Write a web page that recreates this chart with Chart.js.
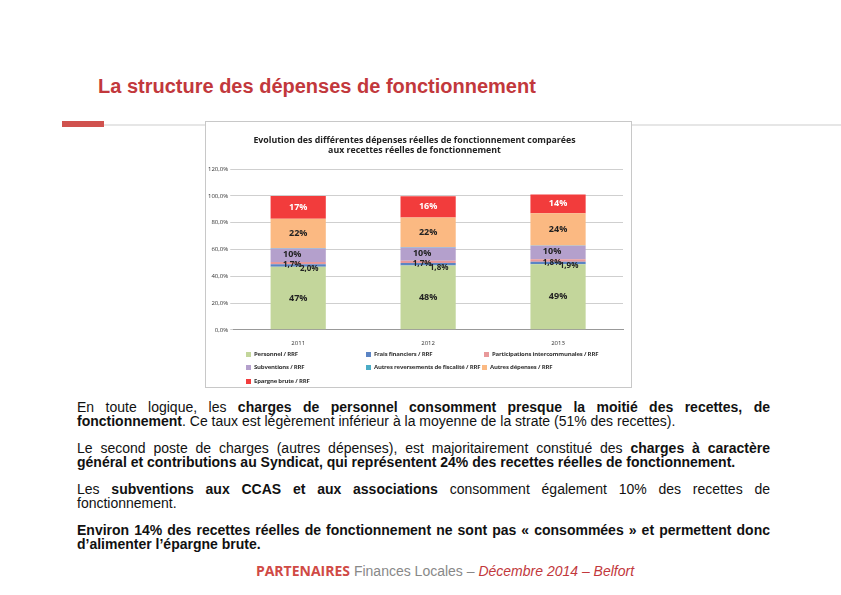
<!DOCTYPE html>
<html lang="fr">
<head>
<meta charset="utf-8">
<title>La structure des dépenses de fonctionnement</title>
<script src="https://cdn.jsdelivr.net/npm/chart.js@4"></script>
<style>
  html, body { margin: 0; padding: 0; background: #fff; }
  body { width: 841px; height: 595px; position: relative; overflow: hidden; font-family: "Liberation Sans", Arial, sans-serif; color: #111; }
  .page-title { position: absolute; left: 98px; top: 75px; margin: 0; font-size: 20px; font-weight: bold; color: #c2383c; }
  .rule-red { position: absolute; left: 62px; top: 121px; width: 42px; height: 6px; background: #d0524e; }
  .rule-grey { position: absolute; left: 104px; top: 124px; width: 737px; height: 2px; background: #e6e6e6; }
  .chart-box { position: absolute; left: 205px; top: 121px; width: 425px; height: 265px; border: 1px solid #c8c8c8; background: #fff; }
  .chart-box canvas { position: absolute; left: 0; top: 0; }
  .legend { position: absolute; left: 0; top: 0; width: 100%; height: 100%; pointer-events: none; font-family: "Open Sans", sans-serif; font-weight: bold; font-size: 6px; letter-spacing: -0.2px; color: #333; }
  .legend span { position: absolute; white-space: nowrap; }
  .legend i { display: inline-block; width: 5px; height: 5px; margin-right: 3px; vertical-align: -0.5px; }
  .text { position: absolute; left: 77px; top: 400px; width: 693px; font-size: 14px; line-height: 14px; text-align: justify; }
  .text p { margin: 0 0 13px 0; }
  .footer { position: absolute; left: 0; top: 561px; width: 890px; text-align: center; font-size: 14px; color: #888; }
  .footer b { font-family: "Open Sans", sans-serif; color: #d04a45; }
  .footer em { color: #c2383c; }
</style>
</head>
<body>
<h1 class="page-title">La structure des dépenses de fonctionnement</h1>
<div class="rule-red"></div>
<div class="rule-grey"></div>

<div class="chart-box">
  <canvas id="chart" width="425" height="265"></canvas>
  <div class="legend" id="legend"></div>
</div>

<div class="text">
  <p>En toute logique, les <b>charges de personnel consomment presque la moitié des recettes, de fonctionnement</b>. Ce taux est légèrement inférieur à la moyenne de la strate (51% des recettes).</p>
  <p>Le second poste de charges (autres dépenses), est majoritairement constitué des <b>charges à caractère général et contributions au Syndicat, qui représentent 24% des recettes réelles de fonctionnement.</b></p>
  <p>Les <b>subventions aux CCAS et aux associations</b> consomment également 10% des recettes de fonctionnement.</p>
  <p><b>Environ 14% des recettes réelles de fonctionnement ne sont pas « consommées » et permettent donc d’alimenter l’épargne brute.</b></p>
</div>

<div class="footer"><b>PARTENAIRES</b> Finances Locales – <em>Décembre 2014 – Belfort</em></div>

<script>
  /* ---------- Data ---------- */
  const years = ['2011', '2012', '2013'];
  const personnel = [47, 48, 49];
  const fraisFinanciers = [2.0, 1.8, 1.9];
  const participations = [1.7, 1.7, 1.8];
  const subventions = [10, 10, 10];
  const autresReversements = [0.3, 0.3, 0.3];
  const autresDepenses = [22, 22, 24];
  const epargneBrute = [17, 16, 14];
  const yTicks = [0, 20, 40, 60, 80, 100, 120];

  // dec = decimals shown in the bar label; dx/dy nudge the small overlapping labels
  const series = [
    { label: 'Personnel / RRF', data: personnel, color: '#c3d69b', text: '#222', dec: 0 },
    { label: 'Frais financiers / RRF', data: fraisFinanciers, color: '#5b84c4', text: '#222', dec: 1, dx: 11, dy: 3 },
    { label: 'Participations intercommunales / RRF', data: participations, color: '#e8999a', text: '#222', dec: 1, dx: -6, dy: 2 },
    { label: 'Subventions / RRF', data: subventions, color: '#b4a0cc', text: '#222', dec: 0, dx: -6, dy: -1 },
    { label: 'Autres reversements de fiscalité / RRF', data: autresReversements, color: '#4bacc6', text: '#222', dec: -1 },
    { label: 'Autres dépenses / RRF', data: autresDepenses, color: '#fbb982', text: '#222', dec: 0 },
    { label: 'Epargne brute / RRF', data: epargneBrute, color: '#f23c3c', text: '#fff', dec: 0 }
  ];

  const fmtPct = (v, dec) => v.toFixed(dec).replace('.', ',') + '%';

  /* ---------- Inline data labels ---------- */
  const barLabels = {
    id: 'barLabels',
    afterDatasetsDraw(chart) {
      const ctx = chart.ctx;
      ctx.save();
      ctx.textAlign = 'center';
      ctx.textBaseline = 'middle';
      chart.data.datasets.forEach((ds, i) => {
        const s = series[i];
        if (s.dec < 0) return;
        ctx.font = (s.dec ? 'bold 8px' : 'bold 9px') + ' "Open Sans", sans-serif';
        chart.getDatasetMeta(i).data.forEach((bar, j) => {
          const y = (bar.y + bar.base) / 2;
          ctx.fillStyle = s.text;
          ctx.fillText(fmtPct(ds.data[j], s.dec), bar.x + (s.dx || 0), y + (s.dy || 0));
        });
      });
      ctx.restore();
    }
  };

  new Chart(document.getElementById('chart'), {
    type: 'bar',
    data: {
      labels: years,
      datasets: series.map((s) => ({
        label: s.label,
        data: s.data,
        backgroundColor: s.color,
        borderWidth: 0,
        barPercentage: 0.85,
        categoryPercentage: 0.5
      }))
    },
    options: {
      responsive: false,
      animation: false,
      devicePixelRatio: 1,
      layout: { padding: { left: 0, right: 8, top: 4, bottom: 38 } },
      plugins: {
        legend: { display: false },
        tooltip: { enabled: false },
        title: {
          display: true,
          text: ['Evolution des différentes dépenses réelles de fonctionnement comparées', 'aux recettes réelles de fonctionnement'],
          color: '#222',
          font: { family: '"Open Sans", sans-serif', size: 8.8, weight: 'bold', lineHeight: 1.2 },
          padding: { top: 9, bottom: 13 }
        }
      },
      scales: {
        x: {
          stacked: true,
          grid: { display: false },
          border: { color: '#999' },
          ticks: { color: '#333', font: { family: '"Open Sans", sans-serif', size: 6 }, padding: 2 }
        },
        y: {
          stacked: true,
          min: 0,
          max: 120,
          afterBuildTicks: (axis) => { axis.ticks = yTicks.map((v) => ({ value: v })); },
          grid: { color: '#cfcfcf', tickLength: 3 },
          border: { display: false },
          ticks: {
            color: '#333',
            font: { family: '"Open Sans", sans-serif', size: 6 },
            padding: 2,
            callback: (v) => v.toFixed(1).replace('.', ',') + '%'
          }
        }
      }
    },
    plugins: [barLabels]
  });

  /* ---------- Legend (3-column grid, like the spreadsheet) ---------- */
  const legendSlots = [[40, 228], [160, 228], [278, 228], [40, 241], [160, 241], [276, 241], [40, 255]];
  document.getElementById('legend').innerHTML = series
    .map((s, i) => `<span style="left:${legendSlots[i][0]}px;top:${legendSlots[i][1]}px"><i style="background:${s.color}"></i>${s.label}</span>`)
    .join('');
</script>
</body>
</html>
